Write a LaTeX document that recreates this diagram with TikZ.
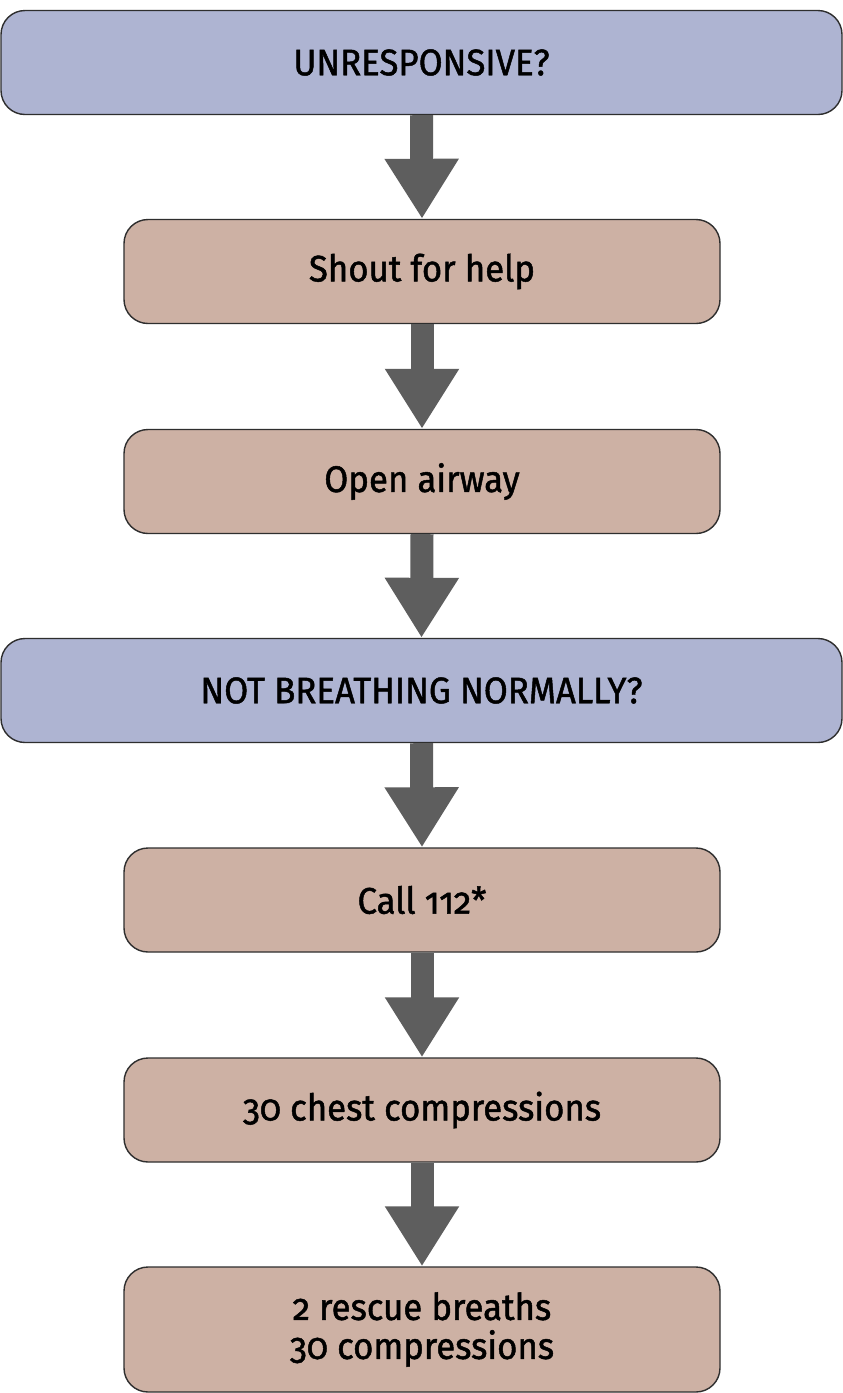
\documentclass[tikz,border=0pt]{standalone}
\usepackage{fontspec}
\setmainfont{Fira Sans}[Numbers=OldStyle,FakeBold=1.3,FakeStretch=0.94]
\usetikzlibrary{arrows.meta}
\definecolor{qblue}{HTML}{AEB4D2}
\definecolor{stepfill}{HTML}{CDB1A4}
\definecolor{arrowgray}{HTML}{5E5E5E}
\definecolor{edgegray}{HTML}{2E2E2E}
\begin{document}
\begin{tikzpicture}[x=1pt,y=-1pt,
  boxbase/.style={draw=edgegray,line width=1.4pt,rounded corners=24pt,
    text=black,font=\fontsize{37}{39}\selectfont,align=center,inner sep=0pt},
  question/.style={boxbase,fill=qblue,minimum width=841pt,minimum height=104pt},
  action/.style={boxbase,fill=stepfill,minimum width=596pt,minimum height=104pt},
  flow/.style={draw=arrowgray,line width=23pt,
    -{Triangle[length=60pt,width=70pt,fill=arrowgray]}}]
  % canvas
  \path[use as bounding box,fill=white] (0,0) rectangle (843,1393);
  % boxes
  \node[question] (q1) at (421.5,62.5) {UNRESPONSIVE?};
  \node[action] (s1) at (422,271.5) {Shout for help};
  \node[action] (s2) at (422,481.5) {Open airway};
  \node[question] (q2) at (421.5,690.5) {NOT BREATHING NORMALLY?};
  \node[action] (s3) at (422,900) {Call 112*};
  \node[action] (s4) at (422,1110) {30 chest compressions};
  \node[action,minimum height=125pt] (s5) at (422,1329.5) {2 rescue breaths\\30 compressions};
  % connectors
  \draw[flow] (q1.south) -- (s1.north);
  \draw[flow] (s1.south) -- (s2.north);
  \draw[flow] (s2.south) -- (q2.north);
  \draw[flow] (q2.south) -- (s3.north);
  \draw[flow] (s3.south) -- (s4.north);
  \draw[flow] (s4.south) -- (s5.north);
\end{tikzpicture}
\end{document}
